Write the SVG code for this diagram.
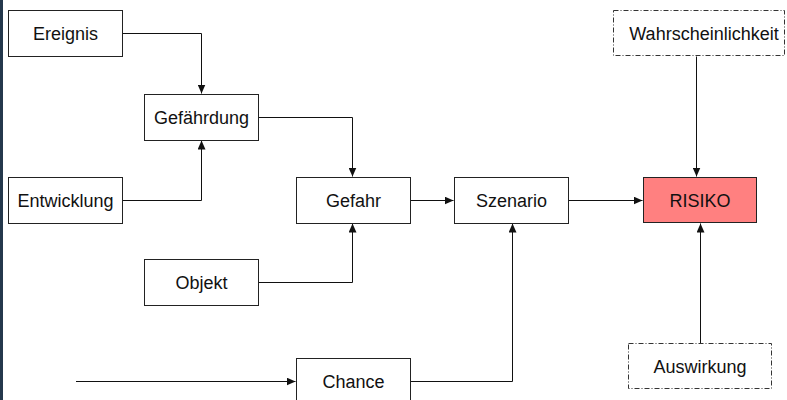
<svg xmlns="http://www.w3.org/2000/svg" width="787" height="400" viewBox="0 0 787 400">
<style>
.box{fill:#fff;stroke:#222;stroke-width:1}
.dash{fill:#fff;stroke:#333;stroke-width:1;stroke-dasharray:5,2,1,2}
.risk{fill:#ff8080;stroke:#222;stroke-width:1}
.lbl{font-family:"Liberation Sans",Arial,sans-serif;font-size:18px;fill:#111;text-anchor:middle}
.edge{fill:none;stroke:#111;stroke-width:1}
</style>
<defs>
<marker id="arr" markerWidth="10" markerHeight="8" refX="9" refY="4" orient="auto" markerUnits="userSpaceOnUse">
<path d="M0,0 L9,4 L0,8 Z" fill="#111"/>
</marker>
</defs>
<rect x="0" y="0" width="787" height="400" fill="#fff"/>
<rect x="0" y="0" width="3" height="400" fill="#24384c"/>
<g id="connectors">
<path class="edge" d="M122.5,33.5 H201.5 V93.5" marker-end="url(#arr)"/>
<path class="edge" d="M122.5,200.5 H201.5 V140.5" marker-end="url(#arr)"/>
<path class="edge" d="M258.5,117.5 H352.5 V176.5" marker-end="url(#arr)"/>
<path class="edge" d="M258.5,282.5 H352.5 V223.5" marker-end="url(#arr)"/>
<path class="edge" d="M410.5,200.5 H453.5" marker-end="url(#arr)"/>
<path class="edge" d="M568.5,200.5 H642.5" marker-end="url(#arr)"/>
<path class="edge" d="M76,381.5 H295.5" marker-end="url(#arr)"/>
<path class="edge" d="M410.5,381.5 H512.5 V223.5" marker-end="url(#arr)"/>
<path class="edge" d="M696.5,56.5 V176.5" marker-end="url(#arr)"/>
<path class="edge" d="M700.5,343.5 V223.5" marker-end="url(#arr)"/>
</g>
<g id="ereignis"><rect class="box" x="8.5" y="10.5" width="114" height="46"/><text class="lbl" x="65.5" y="40">Ereignis</text></g>
<g id="gefaehrdung"><rect class="box" x="144.5" y="94.5" width="114" height="46"/><text class="lbl" x="201.5" y="124">Gefährdung</text></g>
<g id="entwicklung"><rect class="box" x="8.5" y="177.5" width="114" height="46"/><text class="lbl" x="65.5" y="207">Entwicklung</text></g>
<g id="objekt"><rect class="box" x="144.5" y="259.5" width="114" height="46"/><text class="lbl" x="201.5" y="289">Objekt</text></g>
<g id="gefahr"><rect class="box" x="296.5" y="177.5" width="114" height="46"/><text class="lbl" x="353.5" y="207">Gefahr</text></g>
<g id="szenario"><rect class="box" x="454.5" y="177.5" width="114" height="46"/><text class="lbl" x="511.5" y="207">Szenario</text></g>
<g id="chance"><rect class="box" x="296.5" y="358.5" width="114" height="46"/><text class="lbl" x="353.5" y="388">Chance</text></g>
<g id="risiko"><rect class="risk" x="643.5" y="177.5" width="113" height="45"/><text class="lbl" x="700" y="207">RISIKO</text></g>
<g id="wahrscheinlichkeit"><rect class="dash" x="613.5" y="10.5" width="171" height="45"/><text class="lbl" x="704" y="40">Wahrscheinlichkeit</text></g>
<g id="auswirkung"><rect class="dash" x="628.5" y="343.5" width="143" height="45"/><text class="lbl" x="700" y="373">Auswirkung</text></g>
</svg>
